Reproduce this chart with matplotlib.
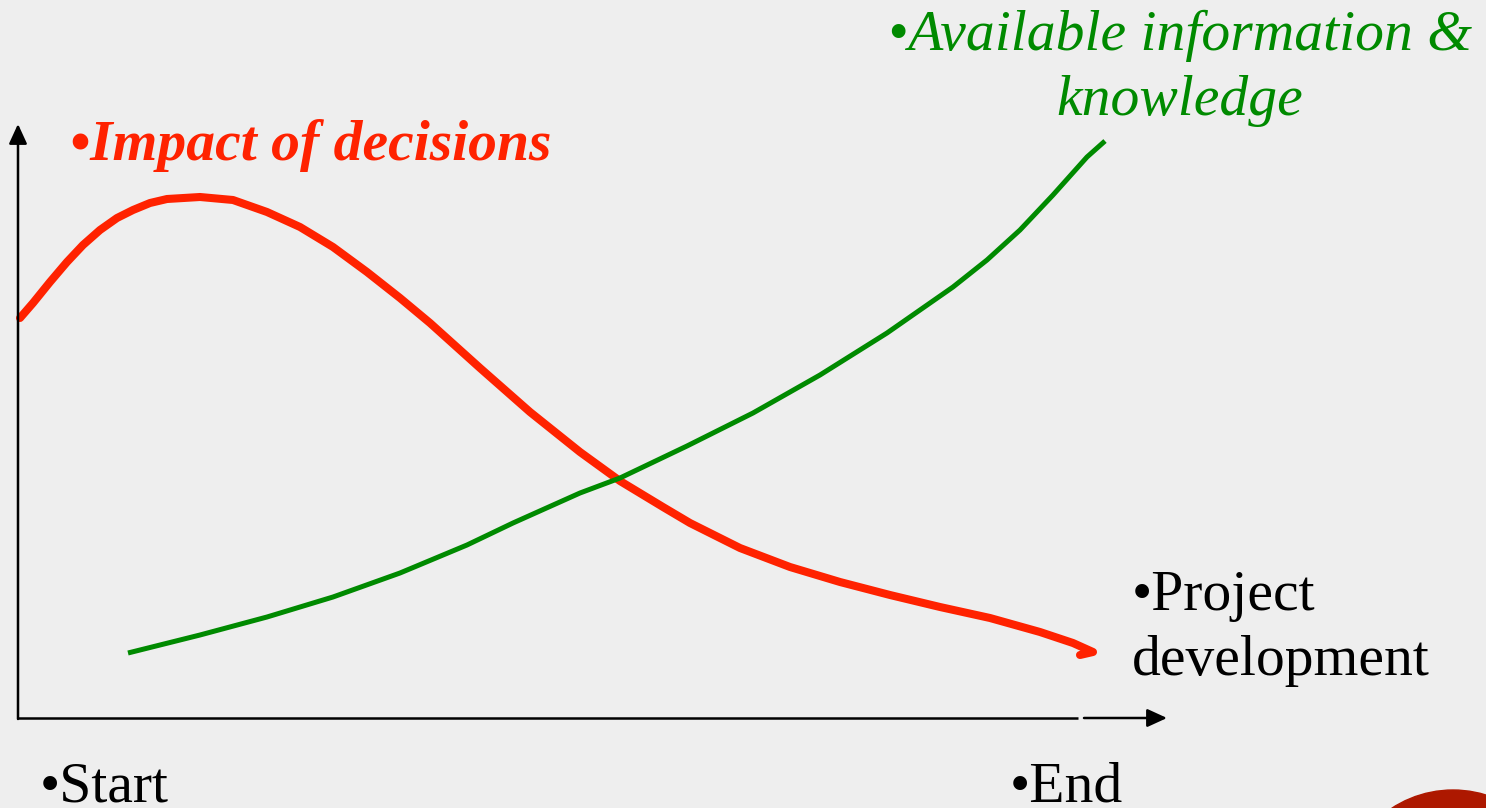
import numpy as np
import matplotlib.pyplot as plt
from matplotlib.patches import Circle

# curves (pixel space, y grows downward)
impact_x = [20, 33, 50, 67, 83, 100, 117, 133, 150, 167, 200, 233, 267, 300, 333, 367, 400,
            430, 480, 530, 580, 620, 663, 690, 740, 790, 840, 890, 940, 990, 1040, 1073, 1093, 1080]
impact_y = [318, 303, 282, 262, 245, 230, 218, 210, 203, 199, 197, 200, 212, 227, 247, 272, 298,
            323, 368, 412, 452, 481, 507, 523, 548, 567, 582, 595, 607, 618, 632, 643, 652, 655]

info_x = [128, 200, 267, 333, 400, 467, 513, 580, 620, 687, 753, 820, 887, 953, 987, 1020, 1053, 1087, 1105]
info_y = [653, 635, 617, 597, 573, 545, 523, 493, 478, 446, 413, 375, 333, 287, 260, 230, 195, 157, 141]

bg = '#eeeeee'
serif = ['Liberation Serif', 'DejaVu Serif']
fs = 41.5

fig = plt.figure(figsize=(14.86, 8.08), dpi=100, facecolor=bg)
ax = fig.add_axes([0, 0, 1, 1])
ax.set_facecolor(bg)
ax.set_xlim(0, 1486)
ax.set_ylim(808, 0)
ax.axis('off')

# axes with arrows
head = '-|>,head_length=1.2,head_width=0.55'
ax.annotate('', xy=(18, 124), xytext=(18, 719),
            arrowprops=dict(arrowstyle=head, color='black', lw=1.8, shrinkA=0, shrinkB=0))
ax.plot([18, 1078], [718, 718], color='black', lw=1.8, solid_capstyle='butt')
ax.annotate('', xy=(1167, 718), xytext=(1084, 718),
            arrowprops=dict(arrowstyle=head, color='black', lw=1.8, shrinkA=0, shrinkB=0))

ax.plot(impact_x, impact_y, color='#ff2200', lw=5.8, solid_capstyle='round', solid_joinstyle='round')
ax.plot(info_x, info_y, color='#008a00', lw=3.6, solid_capstyle='butt', solid_joinstyle='round')

ax.text(70, 160, '•Impact of decisions', color='#ff2200', fontsize=fs, family=serif,
        fontweight='bold', style='italic', va='baseline')
ax.text(1180, 50, '•Available information &', color='#008a00', fontsize=fs, family=serif,
        style='italic', va='baseline', ha='center')
ax.text(1180, 115, 'knowledge', color='#008a00', fontsize=fs, family=serif,
        style='italic', va='baseline', ha='center')
ax.text(1132, 610, '•Project', color='black', fontsize=fs, family=serif, va='baseline')
ax.text(1132, 675, 'development', color='black', fontsize=fs, family=serif, va='baseline')
ax.text(40, 801, '•Start', color='black', fontsize=fs, family=serif, va='baseline')
ax.text(1010, 801, '•End', color='black', fontsize=fs, family=serif, va='baseline')

ax.add_patch(Circle((1453, 902), 112, color='#ad1800'))

fig.savefig('out.png', dpi=100, facecolor=bg)
